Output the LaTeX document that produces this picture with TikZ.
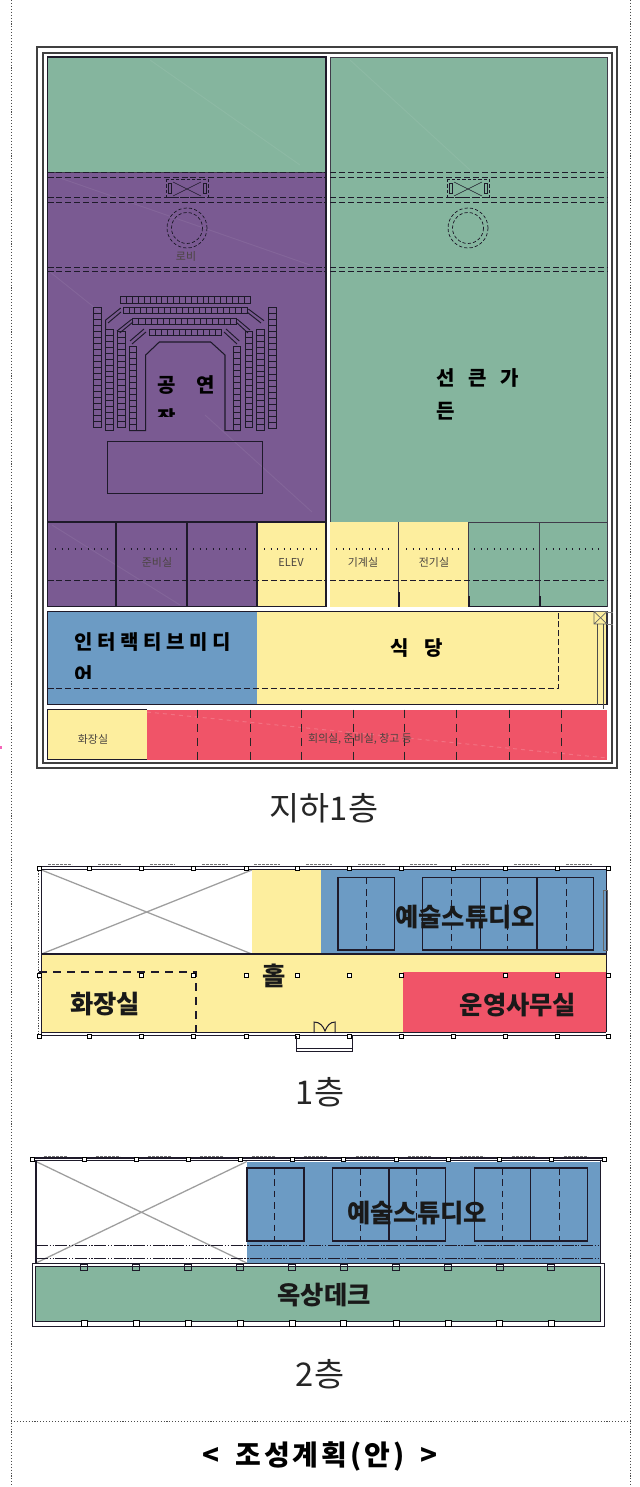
\documentclass[tikz,border=0pt]{standalone}
\usepackage{fontspec}
\setmainfont{Noto Sans CJK KR}
\usetikzlibrary{patterns}
\definecolor{cPurple}{HTML}{7A5A92}
\definecolor{cGreen}{HTML}{85B59E}
\definecolor{cYellow}{HTML}{FDEE9E}
\definecolor{cBlue}{HTML}{6C9BC4}
\definecolor{cRed}{HTML}{F05468}
\definecolor{cWall}{HTML}{1E1A2A}
\definecolor{cLabel}{HTML}{4A4440}
\tikzset{
  frame/.style={draw=black!75,line width=0.9pt},
  wall/.style={draw=cWall,line width=0.9pt},
  thinwall/.style={draw=cWall!85,line width=0.55pt},
  dashline/.style={draw=cWall,line width=0.65pt,dash pattern=on 4.5pt off 2.2pt},
  dashlong/.style={draw=cWall,line width=0.7pt,dash pattern=on 6pt off 4.5pt},
  dotline/.style={draw=cWall,line width=0.9pt,dash pattern=on 0.9pt off 4pt},
  boxline/.style={draw=cWall,line width=0.8pt},
  dashdot/.style={draw=cWall,line width=0.7pt,dash pattern=on 9pt off 1.2pt on 1pt off 1.2pt on 1pt off 1.2pt},
  crossline/.style={draw=black!38,line width=0.95pt},
  border/.style={draw=black!70,line width=0.6pt,dash pattern=on 0.8pt off 1.4pt},
  column/.style={draw=black,fill=white,line width=0.7pt},
  seat/.style={draw=cWall,line width=0.55pt},
  streak/.style={draw=white,opacity=0.07,line width=0.7pt},
  small/.style={text=cLabel,font=\fontsize{8.2}{10}\selectfont,inner sep=0pt},
  big/.style={text=black!90,font=\fontsize{19}{22}\bfseries,inner sep=0pt},
  head/.style={text=black,font=\fontsize{15}{18}\bfseries,inner sep=0pt},
  floorname/.style={text=black!85,font=\fontsize{24.5}{29}\selectfont,inner sep=0pt},
}
\newcommand{\seatH}[5]{% x1 x2 y1 y2 n
  \draw[seat] (#1,#3) rectangle (#2,#4);
  \foreach \i in {1,...,#5}{\draw[seat] ({#1+(#2-#1)*\i/#5},#3) -- ({#1+(#2-#1)*\i/#5},#4);}
}
\newcommand{\seatV}[5]{% x1 x2 y1 y2 n
  \draw[seat] (#1,#3) rectangle (#2,#4);
  \foreach \i in {1,...,#5}{\draw[seat] (#1,{#3+(#4-#3)*\i/#5}) -- (#2,{#3+(#4-#3)*\i/#5});}
}
\newcommand{\colbox}[2]{\draw[column] ({#1-2},{#2-2}) rectangle ({#1+2},{#2+2});}
\begin{document}
\begin{tikzpicture}[x=0.75pt,y=-0.75pt]
\useasboundingbox (0,0) rectangle (639,1487);
% page border
\draw[border] (11,0) -- (11,1487);
\draw[border] (630,0) -- (630,1487);
\draw[border] (11,1421) -- (630,1421);
\fill[magenta!60] (0,746) rectangle (1.5,748.5);
% ===== B1 =====
\draw[frame] (37,47) rectangle (617,768);
\draw[frame] (43,53) rectangle (612,763);
% fills
\fill[cGreen] (47.5,57) rectangle (326,172);
\fill[cPurple] (47.5,172) rectangle (326,522);
\fill[cGreen] (330,57) rectangle (607,522);
\fill[cPurple] (47.5,522) rectangle (257,606.5);
\fill[cYellow] (257,522) rectangle (326,606.5);
\fill[cYellow] (330,522) rectangle (468.5,606.5);
\fill[cGreen] (468.5,522) rectangle (607,606.5);
\fill[cBlue] (47.5,611.5) rectangle (257,704.5);
\fill[cYellow] (257,611.5) rectangle (607,704.5);
\fill[cYellow] (47.5,709.5) rectangle (147,759.5);
\fill[cRed] (147,709.5) rectangle (607,759.5);
% faint streaks
\draw[streak] (60,178) -- (310,265) (50,272) -- (100,312) (205,415) -- (312,512) (52,525) -- (180,605);
\draw[streak] (350,60) -- (470,170) (150,60) -- (300,165);
\draw[streak,dashed,opacity=0.18] (147,712) -- (607,758);
% outlines
\draw[wall] (47.5,57) rectangle (326,606.5);
\draw[thinwall] (330,57) -- (607,57) -- (607,606.5) (330,57) -- (330,522);
\draw[thinwall] (47.5,172) -- (326,172);
\draw[wall] (47.5,522) -- (326,522) (468.5,606.5) -- (607,606.5);
\draw[thinwall] (468.5,522) -- (607,522);
\draw[wall,line width=1.2pt] (116.2,522) -- (116.2,606.5) (186.7,522) -- (186.7,606.5) (256.8,522) -- (256.8,606.5);
\draw[thinwall] (398.6,522) -- (398.6,606.5) (468.5,522) -- (468.5,606.5) (539.6,522) -- (539.6,606.5);
\draw[wall] (47.5,611.5) rectangle (607,704.5);
\draw[wall] (47.5,759.5) -- (47.5,709.5) -- (147,709.5);
\draw[draw=cWall,line width=0.5pt] (47.5,759.5) -- (147,759.5);
% dashed storey lines over top zone
\foreach \yy in {172,177,197.5,202.5,267,271}{
  \draw[dashline] (47.5,\yy) -- (326,\yy);
  \draw[dashline] (330,\yy) -- (607,\yy);
}
% cores
\foreach \cx/\nm in {187/a,468/b}{
  \draw[dashline,line width=0.55pt,dash pattern=on 2.4pt off 1.6pt] (\cx-21,179) rectangle (\cx+21,197);
  \draw[draw=cWall,line width=0.4pt] (\cx-14,182) -- (\cx+14,196) (\cx-14,196) -- (\cx+14,182);
  \draw[seat,fill=none] (\cx-19,183) rectangle (\cx-16,193) (\cx+16,183) rectangle (\cx+19,193);
  \draw[dashline,line width=0.55pt,dash pattern=on 2.4pt off 1.6pt] (\cx,228) circle (20);
  \draw[dashline,line width=0.55pt,dash pattern=on 2.4pt off 1.6pt] (\cx,228) circle (15.5);
}
% seats
\seatH{120.7}{250}{296.7}{303}{22}
\seatH{123}{247}{307}{313}{21}
\seatH{132.7}{236.7}{318.3}{324.3}{17}
\seatH{149}{221.7}{329}{335}{12}
\seatV{93.7}{101.3}{307.7}{427}{20}
\seatV{105.7}{113.3}{329}{430.7}{17}
\seatV{117}{125.3}{331.3}{427}{16}
\seatV{129}{136.7}{346}{430.7}{14}
\seatV{233.3}{240.7}{346}{430.7}{14}
\seatV{245.3}{252.7}{331}{427}{16}
\seatV{256.7}{264}{329}{430.7}{17}
\seatV{268.3}{276}{307.7}{428}{20}
\draw[boxline] (129,430.7) -- (145.7,430.7) -- (145.7,355) -- (159.3,342) -- (210.7,342) -- (225,355) -- (225,430.7) -- (240.7,430.7);
\draw[seat,line width=0.7pt] (105.7,329) -- (105.7,320) -- (120.7,308) (108,323) -- (121,312)
  (117,331) -- (131.7,319.3) (119.7,333) -- (133,322)
  (130,341) -- (144,329) (132,344) -- (146,332)
  (248.3,309) -- (264,320.7) (247,312) -- (261,323)
  (237.3,319.3) -- (250,330) (236,322) -- (248,333)
  (226,329) -- (239.3,341) (224,332) -- (237,344);
\draw[boxline] (107.3,441.7) rectangle (262.7,493.3);
% service row
\foreach \a/\b in {55/108,124/181,193/250,264/320,336/392,406/462,474/533,546/602}{
  \draw[dotline] (\a,549) -- (\b,549);
}
\draw[dashline] (47.5,580) -- (326,580) (330,580) -- (607,580);
\draw[wall,line width=1.5pt] (398.6,592) -- (398.6,606.5) (468.5,596) -- (468.5,606.5) (539.6,596) -- (539.6,606.5) (256.8,596) -- (256.8,606.5);
% middle row
\draw[dashline] (47.5,688) -- (558.7,688) -- (558.7,612);
\draw[draw=black!60,line width=0.5pt] (594,611.5) rectangle (607,624) (594,624) -- (607,611.5) (594,611.5) -- (607,624);
\draw[draw=black!50,line width=0.5pt] (607,612) -- (613,612) (607,624) -- (613,624);
\draw[draw=black!70,line width=0.6pt] (597,624) -- (597,704.5) (603.5,624) -- (603.5,709);
% bottom row
\foreach \xx in {197.8,250,301.7,353,404.7,456.4,509,561}{
  \draw[dashlong,draw=black!85] (\xx,709.5) -- (\xx,759.5);
}
% B1 labels
\node[small] (lobby) at (186,256) {로비};
\node[small] (prep) at (157,562) {준비실};
\node[small] (elev) at (291,562) {ELEV};
\node[small] (mech) at (363,562) {기계실};
\node[small] (elec) at (434,562) {전기실};
\node[small] (wc) at (93,739) {화장실};
\node[small] (meet) at (360,739) {회의실, 준비실, 창고 등};
\node[head] (g1) at (166.5,385) {공};
\node[head] (g2) at (205.5,385) {연};
\begin{scope}
  \clip (150,400) rectangle (190,416);
  \node[head] (g3) at (166.5,418) {장};
\end{scope}
\foreach \t/\xx/\nm in {선/446/s1,큰/478/s2,가/510/s3}{\node[head] (\nm) at (\xx,378) {\t};}
\node[head] (s4) at (446,411) {든};
\foreach \t/\xx/\nm in {인/83.5/m1,터/106.5/m2,랙/129.5/m3,티/152.5/m4,브/175.5/m5,미/198.5/m6,디/221.5/m7}{\node[head] (\nm) at (\xx,642) {\t};}
\begin{scope}
  \clip (60,660) rectangle (110,678);
  \node[head] (m8) at (83.5,675) {어};
\end{scope}
\node[head] (r1) at (400,648) {식};
\node[head] (r2) at (434,648) {당};
\node[floorname] (fb1) at (324,808) {지하1층};
% ===== 1F =====
\fill[cYellow] (41,870) rectangle (606,1032);
\fill[white] (41.5,870) rectangle (251.8,954);
\fill[cBlue] (320.8,870) rectangle (606,954);
\fill[cRed] (403,971.7) rectangle (606,1032);
\draw[crossline] (41.5,870) -- (251.8,954) (41.5,954) -- (251.8,870);
\draw[wall] (41.5,954) -- (606,954);
\draw[boxline] (338,877.7) rectangle (394.7,950);
\draw[boxline] (422.3,877.7) rectangle (593.6,950);
\draw[boxline] (480.5,877.7) -- (480.5,950) (537,877.7) -- (537,950);
\foreach \xx in {366,451,507.7,566}{\draw[dashline,dash pattern=on 5pt off 3.5pt] (\xx,877.7) -- (\xx,950);}
\draw[dashlong,line width=0.85pt] (39,972) -- (196,972) -- (196,1032);
\draw[wall,line width=1.1pt] (39,866.5) -- (608,866.5) (39,1035.5) -- (608,1035.5) (41.5,866.5) -- (41.5,1035.5);
\draw[wall,line width=0.7pt] (41.5,869) -- (606,869) (41.5,1032) -- (606,1032);
\draw[wall,line width=0.6pt] (606,869) -- (606,1032);
\draw[draw=black!60,line width=0.5pt] (603,890) rectangle (607,950);
\draw[draw=black!70,line width=0.5pt,dash pattern=on 1pt off 1pt] (38.5,868) -- (38.5,1034);
\foreach \a/\b in {48/72,98/122,150/175,202/228,254/280,306/332,358/385,410/437,462/490,514/540,566/592}{
  \draw[draw=black!55,line width=0.7pt,dash pattern=on 2pt off 1pt] (\a,864.6) -- (\b,864.6);
}
\foreach \xx in {39,89.7,141.5,193,246,297.8,349.5,401,453,505.4,557.5,608}{\colbox{\xx}{868}\colbox{\xx}{1036}}
\foreach \xx in {39,141.5,193,246,297.8,349.5,401,505.4,557.5,608}{\colbox{\xx}{975}}
% entry
\draw[wall,line width=0.65pt] (296,1036) -- (296,1051.5) -- (352,1051.5) -- (352,1036) (296,1048) -- (352,1048);
\draw[wall,line width=0.75pt] (314,1033) -- (314,1022) .. controls (320,1022) and (323,1026) .. (325,1031) .. controls (327,1026) and (330,1022) .. (335,1022) -- (335,1033);
\node[big] (art1) at (465,917) {예술스튜디오};
\node[big] (hall) at (274,976) {홀};
\node[big] (wc1) at (105,1004) {화장실};
\node[big] (off) at (518,1005) {운영사무실};
\node[floorname] (f1) at (320,1092) {1층};
% ===== 2F =====
\fill[white] (36,1161.5) rectangle (246.8,1263);
\fill[cBlue] (246.8,1161.5) rectangle (600.4,1263);
\fill[cGreen] (35,1266) rectangle (600,1321.7);
\draw[crossline] (36,1161.5) -- (246.8,1263) (36,1263) -- (246.8,1161.5);
\foreach \a/\b in {247/304,332.6/389,389/445.7,474.4/530.7,530.7/587.4}{\draw[boxline] (\a,1168) rectangle (\b,1241);}
\foreach \xx in {274.8,360,416.6,502.4,559.9}{\draw[dashline,dash pattern=on 5pt off 3.5pt] (\xx,1168) -- (\xx,1241);}
\draw[dashdot] (36,1245) -- (600.4,1245);
\draw[dashdot] (36,1258) -- (600.4,1258);
\draw[wall,line width=1.3pt] (36,1160) -- (36,1263.5) -- (600.4,1263.5) -- (600.4,1160);
\draw[wall,line width=1pt] (33,1158) -- (604,1158);
\draw[wall,line width=0.5pt] (33,1160.5) -- (604,1160.5);
\draw[wall,line width=0.7pt] (32,1263.5) rectangle (604.5,1326.5);
\draw[wall,line width=0.7pt] (35,1266) rectangle (600,1321.7);
\foreach \a/\b in {44/68,96/120,148/172,200/224,252/276,304/328,356/380,408/432,460/484,512/536,564/588}{
  \draw[draw=black!55,line width=0.7pt,dash pattern=on 2pt off 1pt] (\a,1156.2) -- (\b,1156.2);
}
\foreach \xx in {32.5,84.4,136,188,240.3,292,343.8,396,448,499.7,551.4,604}{\colbox{\xx}{1159}}
\foreach \xx in {84.4,136,188,240.3,292,343.8,396,448,499.7,551.4}{
  \draw[column,draw=cWall,line width=0.65pt,fill=none] (\xx-3.5,1264) rectangle (\xx+3.5,1270);
  \draw[column,line width=0.6pt] (\xx-3,1320) rectangle (\xx+3,1326.5);
}
\node[big] (art2) at (417,1213) {예술스튜디오};
\node[big] (deck) at (324,1295) {옥상데크};
\node[floorname] (f2) at (320,1374) {2층};
% title
\node[inner sep=0pt,text=black,font=\fontsize{21}{25}\bfseries] (title) at (320,1456) {\addfontfeature{LetterSpace=11}<\hspace{0.55em}조성계획(안)\hspace{0.55em}>};
\end{tikzpicture}
\end{document}
